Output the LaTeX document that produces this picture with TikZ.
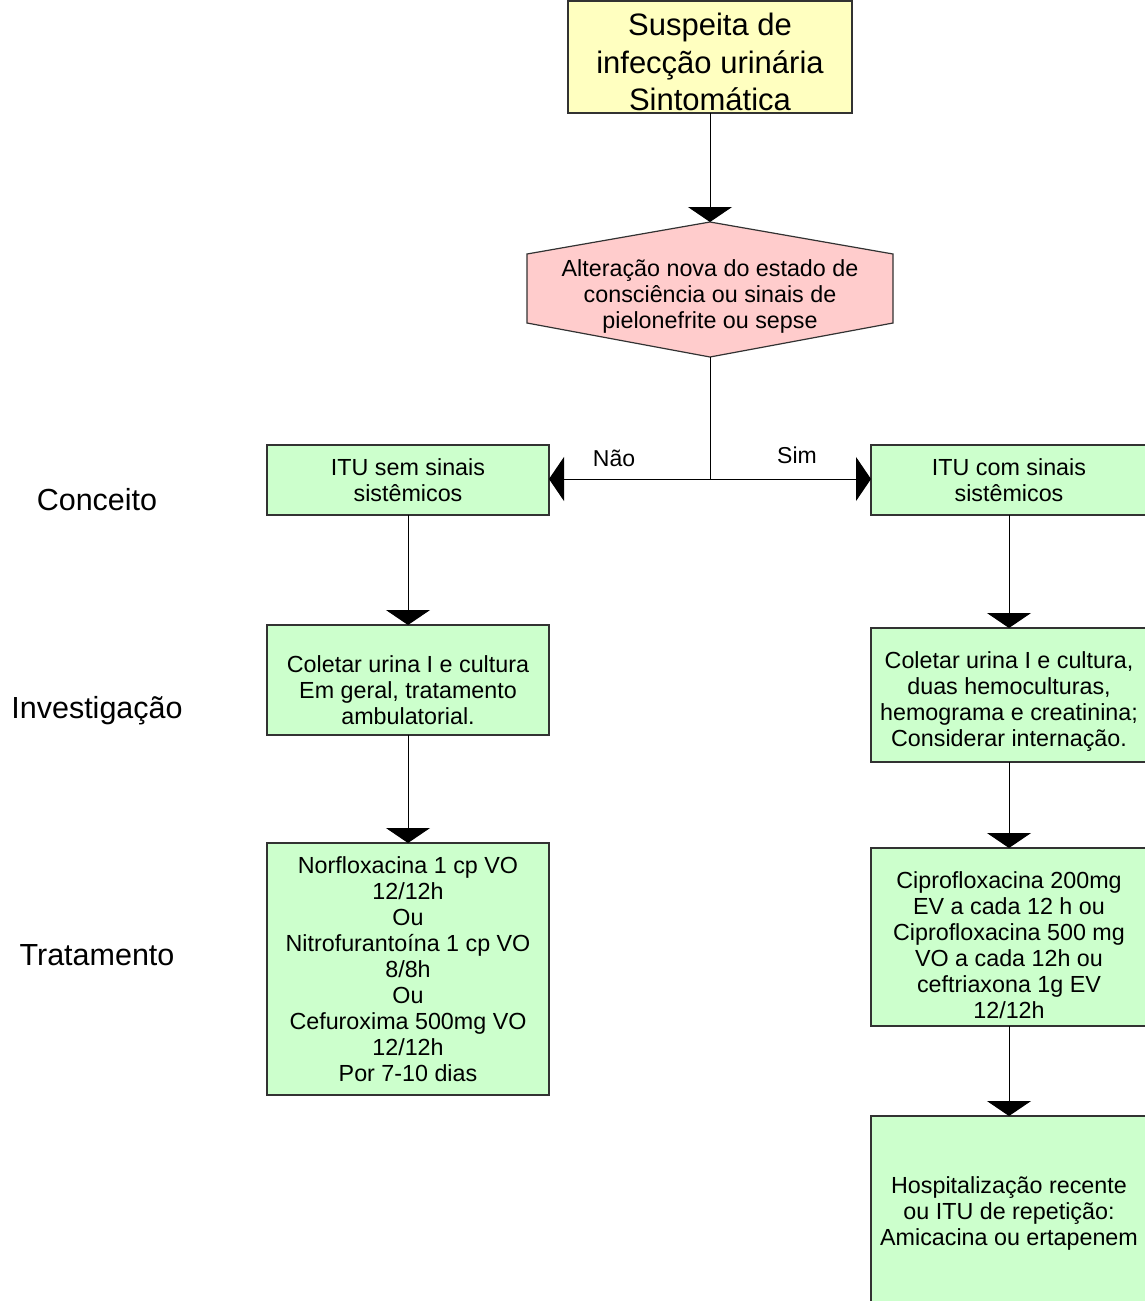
\documentclass[tikz,border=0pt]{standalone}
\usepackage{fontspec}
\setmainfont{Liberation Sans}
\usetikzlibrary{arrows.meta}

\definecolor{boxyellow}{RGB}{255,255,192}
\definecolor{boxgreen}{RGB}{204,255,204}
\definecolor{boxpink}{RGB}{255,204,204}
\definecolor{boxline}{RGB}{50,50,50}

\tikzset{
  box/.style={draw=boxline, line width=1.2pt, rectangle, inner sep=0pt, outer sep=0pt},
  greenbox/.style={box, fill=boxgreen},
  boxtext/.style={align=center, inner sep=0pt, font=\fontsize{23.3}{26}\selectfont},
  sidelabel/.style={inner sep=0pt, font=\fontsize{30.5}{35}\selectfont},
  branchlabel/.style={inner sep=0pt, font=\fontsize{23}{26}\selectfont},
  flow/.style={draw=black, line width=1pt, -{Triangle[width=44pt,length=15pt]}},
  plain/.style={draw=black, line width=1pt}
}

\begin{document}
\begin{tikzpicture}[x=1pt, y=-1pt]
\useasboundingbox (0,0) rectangle (1145,1301);
\clip (0,0) rectangle (1145,1301);

% start box
\node[box, fill=boxyellow, minimum width=284pt, minimum height=112pt] (start) at (710,57) {};
\node[align=center, inner sep=0pt, font=\fontsize{31}{37.5}\selectfont] (startText) at (710,62)
  {Suspeita de\\infecção urinária\\Sintomática};

% decision hexagon
\coordinate (hexT) at (710,222);
\coordinate (hexB) at (710,357);
\filldraw[fill=boxpink, draw=boxline, line width=1.2pt]
  (hexT) -- (893,254) -- (893,323) -- (hexB) -- (527,323) -- (527,254) -- cycle;
\node[boxtext] (decision) at (710,296)
  {Alteração nova do estado de\\consciência ou sinais de\\pielonefrite ou sepse};

% left column: no systemic signs
\node[greenbox, minimum width=282pt, minimum height=70pt] (semBox) at (408,480) {};
\node[boxtext] (semText) at (semBox) {ITU sem sinais\\sistêmicos};

\node[greenbox, minimum width=282pt, minimum height=110pt] (invLBox) at (408,680) {};
\node[boxtext] (invLText) at (408,690)
  {Coletar urina I e cultura\\Em geral, tratamento\\ambulatorial.};

\node[greenbox, minimum width=282pt, minimum height=252pt] (trtLBox) at (408,969) {};
\node[boxtext] (trtLText) at (trtLBox)
  {Norfloxacina 1 cp VO\\12/12h\\Ou\\Nitrofurantoína 1 cp VO\\8/8h\\Ou\\Cefuroxima 500mg VO\\12/12h\\Por 7-10 dias};

% right column: systemic signs
\node[greenbox, minimum width=276pt, minimum height=70pt] (comBox) at (1009,480) {};
\node[boxtext] (comText) at (comBox) {ITU com sinais\\sistêmicos};

\node[greenbox, minimum width=276pt, minimum height=134pt] (invRBox) at (1009,695) {};
\node[boxtext] (invRText) at (1009,702)
  {Coletar urina I e cultura,\\duas hemoculturas,\\hemograma e creatinina;\\Considerar internação.};

\node[greenbox, minimum width=276pt, minimum height=178pt] (trtRBox) at (1009,937) {};
\node[boxtext] (trtRText) at (1009,945)
  {Ciprofloxacina 200mg\\EV a cada 12 h ou\\Ciprofloxacina 500 mg\\VO a cada 12h ou\\ceftriaxona 1g EV\\12/12h};

\node[greenbox, minimum width=276pt, minimum height=194pt] (hospBox) at (1009,1213) {};
\node[boxtext] (hospText) at (1009,1213)
  {Hospitalização recente\\ou ITU de repetição:\\Amicacina ou ertapenem};

% stage labels
\node[sidelabel] (lblConceito) at (97,500) {Conceito};
\node[sidelabel] (lblInvest) at (97,711) {Investigação};
\node[sidelabel] (lblTrat) at (97,955) {Tratamento};

% connectors
\draw[flow] (start.south) -- (hexT);
\coordinate (fork) at (710,479);
\draw[plain] (hexB) -- (fork);
\draw[flow] (fork) -- (semBox.east |- fork);
\draw[flow] (fork) -- (comBox.west |- fork);
\node[branchlabel] (lblNao) at (614,458) {Não};
\node[branchlabel] (lblSim) at (797,455) {Sim};

\draw[flow] (semBox.south) -- (invLBox.north);
\draw[flow] (invLBox.south) -- (trtLBox.north);
\draw[flow] (comBox.south) -- (invRBox.north);
\draw[flow] (invRBox.south) -- (trtRBox.north);
\draw[flow] (trtRBox.south) -- (hospBox.north);
\end{tikzpicture}
\end{document}
